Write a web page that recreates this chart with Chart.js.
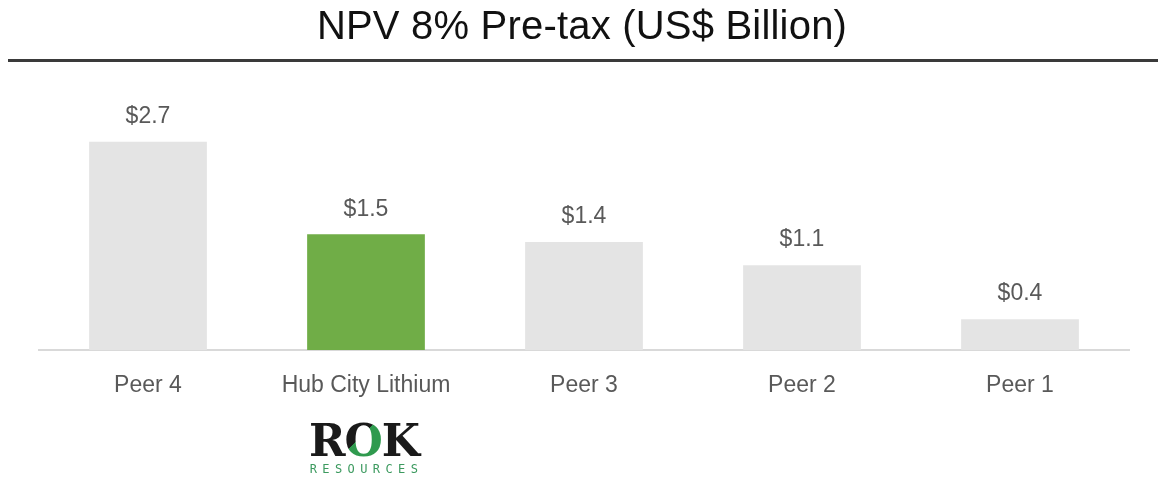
<!DOCTYPE html>
<html>
<head>
<meta charset="utf-8">
<script src="https://cdn.jsdelivr.net/npm/chart.js@4"></script>
<style>
  html, body { margin: 0; padding: 0; background: #fff; }
  body { width: 1158px; height: 479px; position: relative; overflow: hidden; font-family: "Liberation Sans", Arial, sans-serif; }
  #title { position: absolute; left: 0; top: 3px; width: 1164px; text-align: center; font-size: 40px; color: #111; letter-spacing: 0.2px; white-space: nowrap; }
  #rule { position: absolute; left: 8px; top: 59px; width: 1150px; height: 3px; background: #3a3a3a; }
  #wrap { position: absolute; left: 0; top: 0; width: 1158px; height: 479px; }
  #logo { position: absolute; left: 300px; top: 419px; width: 128px; text-align: center; }
  #logo .rok { font-family: "DejaVu Serif", serif; font-weight: bold; font-size: 44px; line-height: 44px; color: #1a1a1a; letter-spacing: -1px; }
  #logo .o { background: linear-gradient(135deg, #1a1a1a 42%, #2f9a4e 43%); -webkit-background-clip: text; background-clip: text; color: transparent; }
  #logo .res { font-family: "DejaVu Sans Mono", monospace; font-size: 12px; line-height: 12px; color: #3c9a5f; letter-spacing: 5.4px; margin-left: 5px; }
</style>
</head>
<body>
<div id="wrap"><canvas id="npvChart"></canvas></div>
<div id="title">NPV 8% Pre-tax (US$ Billion)</div>
<div id="rule"></div>
<div id="logo"><div class="rok">R<span class="o">O</span>K</div><div class="res">RESOURCES</div></div>
<script>
const categories = ['Peer 4', 'Hub City Lithium', 'Peer 3', 'Peer 2', 'Peer 1'];
const npvValues = [2.7, 1.5, 1.4, 1.1, 0.4];
const barColors = ['#e4e4e4', '#70ad47', '#e4e4e4', '#e4e4e4', '#e4e4e4'];

const valueLabels = {
    id: 'valueLabels',
    afterDatasetsDraw(chart) {
        const ctx = chart.ctx;
        const meta = chart.getDatasetMeta(0);
        ctx.save();
        ctx.font = '23px "Liberation Sans", Arial, sans-serif';
        ctx.fillStyle = '#595959';
        ctx.textAlign = 'center';
        ctx.textBaseline = 'middle';
        meta.data.forEach((bar, i) => {
            ctx.fillText('$' + npvValues[i].toFixed(1), bar.x, bar.y - 25);
        });
        ctx.restore();
    }
};

const ctx = document.getElementById('npvChart').getContext('2d');

new Chart(ctx, {
    type: 'bar',
    data: {
        labels: categories,
        datasets: [{
            data: npvValues,
            backgroundColor: barColors,
            barPercentage: 0.54,
            categoryPercentage: 1
        }]
    },
    options: {
        responsive: true,
        maintainAspectRatio: false,
        animation: false,
        layout: { padding: { top: 80, left: 39, right: 29, bottom: 0 } },
        plugins: {
            legend: { display: false },
            tooltip: { enabled: false }
        },
        scales: {
            y: { display: false, min: 0, max: 3.5 },
            x: {
                grid: { display: false },
                border: { display: true, color: '#d9d9d9', width: 2 },
                ticks: {
                    color: '#595959',
                    font: { family: '"Liberation Sans", Arial, sans-serif', size: 23 },
                    padding: 14,
                    maxRotation: 0
                },
                afterFit: (scale) => { scale.height = 129; }
            }
        }
    },
    plugins: [valueLabels]
});
</script>
</body>
</html>
